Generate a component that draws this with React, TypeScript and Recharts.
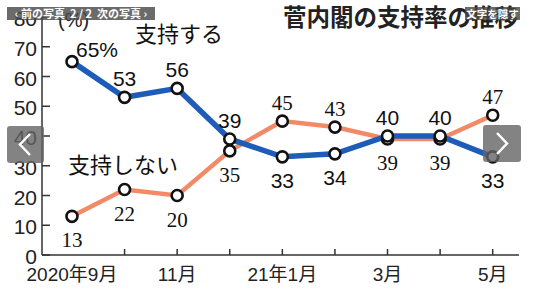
import React from 'react';
import { LineChart, Line, XAxis, YAxis, Customized } from 'recharts';

const months = ['2020年9月', '10月', '11月', '12月', '21年1月', '2月', '3月', '4月', '5月'];
const xTickLabels = ['2020年9月', '', '11月', '', '21年1月', '', '3月', '', '5月'];
const support = [65, 53, 56, 39, 33, 34, 40, 40, 33];
const nonSupport = [13, 22, 20, 35, 45, 43, 39, 39, 47];
const yTicks = [0, 10, 20, 30, 40, 50, 60, 70, 80];
const supportSide = ['top', 'top', 'top', 'top', 'bottom', 'bottom', 'top', 'top', 'bottom'];
const nonSupportSide = ['bottom', 'bottom', 'bottom', 'bottom', 'top', 'top', 'bottom', 'bottom', 'top'];

const data = months.map((m, i) => ({ i, month: m, support: support[i], non: nonSupport[i] }));

const BLUE = '#1d5cb8';
const SALMON = '#f28a68';
const SANS = '"Liberation Sans", Arial, "Noto Sans CJK JP", sans-serif';
const SERIF = '"Liberation Serif", "Times New Roman", serif';
const CJK = '"Noto Sans CJK JP", sans-serif';

const XTick = (props: any) => {
  const { x, y, payload } = props;
  const label = xTickLabels[payload.value];
  return (
    <g>
      {payload.value > 0 && <line x1={x} x2={x} y1={y} y2={y - 6} stroke="#333" strokeWidth={1.5} />}
      {label && (
        <text x={x} y={y + 26} textAnchor="middle" fontSize={19} fill="#222" fontFamily={SANS}>
          {label}
        </text>
      )}
    </g>
  );
};

const YTick = (props: any) => {
  const { x, y, payload } = props;
  return (
    <g>
      <line x1={x} x2={x + 8} y1={y} y2={y} stroke="#333" strokeWidth={1.5} />
      <text x={x - 5} y={y + 9} textAnchor="end" fontSize={21} fill="#222" fontFamily={SANS}>
        {payload.value}
      </text>
    </g>
  );
};

const makeDot = (sides: string[], font: string, pct: boolean) => (props: any) => {
  const { cx, cy, index, value } = props;
  const side = sides[index];
  const first = pct && index === 0;
  const ty = side === 'top' ? cy - (first ? 5 : 11) : cy + 31;
  const tx = first ? cx + 25 : cx;
  return (
    <g key={`d-${index}`}>
      <circle cx={cx} cy={cy} r={5.5} fill="#fff" stroke="#111" strokeWidth={2.6} />
      <text x={tx} y={ty} textAnchor="middle" fontSize={21} fill="#111" fontFamily={font}>
        {first ? `${value}%` : value}
      </text>
    </g>
  );
};

const Overlays = () => (
  <>
    <div
      style={{
        position: 'absolute', left: 7, top: 7, width: 148, height: 13,
        background: 'rgba(70,70,70,0.8)', color: '#fff', fontSize: 11, lineHeight: '13px',
        fontFamily: CJK, fontWeight: 700, whiteSpace: 'nowrap', textAlign: 'center',
      }}
    >
      ‹ 前の写真 &nbsp;2 / 2 &nbsp;次の写真 ›
    </div>
    <div
      style={{
        position: 'absolute', left: 465, top: 7, width: 55, height: 13,
        background: 'rgba(70,70,70,0.8)', color: '#fff', fontSize: 10.5, lineHeight: '13px',
        fontFamily: CJK, fontWeight: 700, whiteSpace: 'nowrap', textAlign: 'center',
      }}
    >
      文字を隠す
    </div>
    <div
      style={{
        position: 'absolute', left: 7, top: 126, width: 37, height: 37, borderRadius: 3,
        background: 'rgba(100,100,100,0.8)',
      }}
    >
      <svg width={37} height={37}>
        <polyline points="23,8 13,18.5 23,29" fill="none" stroke="#fff" strokeWidth={2.5} />
      </svg>
    </div>
    <div
      style={{
        position: 'absolute', left: 483, top: 125, width: 38, height: 37, borderRadius: 3,
        background: 'rgba(100,100,100,0.8)',
      }}
    >
      <svg width={38} height={37}>
        <polyline points="14,8 24,18.5 14,29" fill="none" stroke="#fff" strokeWidth={2.5} />
      </svg>
    </div>
  </>
);

export default function App() {
  return (
    <div style={{ position: 'fixed', left: 0, top: 0, width: 533, height: 293, background: '#fff', overflow: 'hidden' }}>
      <LineChart width={533} height={293} data={data} margin={{ top: 17, right: 14, bottom: 0, left: 0 }}>
        <XAxis
          dataKey="i"
          type="number"
          domain={[-0.57, 8.5]}
          ticks={[0, 1, 2, 3, 4, 5, 6, 7, 8]}
          interval={0}
          tickSize={0}
          tickMargin={0}
          height={38}
          axisLine={{ stroke: '#333', strokeWidth: 1.5 }}
          tick={<XTick />}
        />
        <YAxis
          type="number"
          domain={[0, 80]}
          ticks={yTicks}
          interval={0}
          width={42}
          tickSize={0}
          tickMargin={0}
          axisLine={{ stroke: '#333', strokeWidth: 1.5 }}
          tick={<YTick />}
        />
        <Line dataKey="non" stroke={SALMON} strokeWidth={4.5} dot={false} isAnimationActive={false} />
        <Line dataKey="support" stroke={BLUE} strokeWidth={5.5} dot={false} isAnimationActive={false} />
        <Line dataKey="non" stroke="none" dot={makeDot(nonSupportSide, SERIF, false)} isAnimationActive={false} />
        <Line dataKey="support" stroke="none" dot={makeDot(supportSide, SANS, true)} isAnimationActive={false} />
        <Customized
          component={() => (
            <g>
              <text x={58} y={27} fontSize={20} fill="#222" fontFamily={SANS}>(%)</text>
              <text x={135} y={42} fontSize={22} fill="#111" fontFamily={CJK}>支持する</text>
              <text x={68} y={173} fontSize={22} fill="#111" fontFamily={CJK}>支持しない</text>
              <text x={283} y={26} fontSize={23.5} fontWeight={700} fill="#222" fontFamily={CJK}>菅内閣の支持率の推移</text>
            </g>
          )}
        />
      </LineChart>
      <Overlays />
    </div>
  );
}
